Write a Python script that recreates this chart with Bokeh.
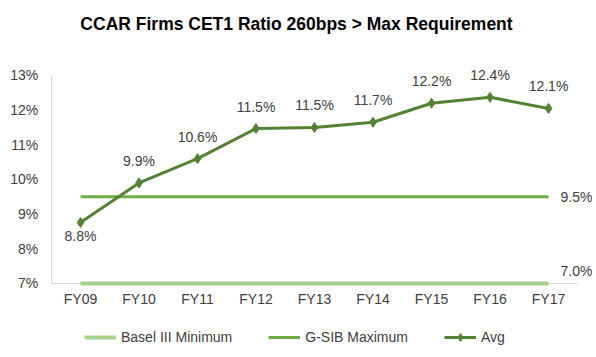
from bokeh.plotting import figure
from bokeh.models import (ColumnDataSource, Range1d, LabelSet, Label, Legend,
                          LegendItem, FixedTicker)
from bokeh.embed import file_html
from bokeh.resources import INLINE
from bokeh.core.properties import value

# ---- data ----
years = ["FY09", "FY10", "FY11", "FY12", "FY13", "FY14", "FY15", "FY16", "FY17"]
avg = [8.76, 9.90, 10.60, 11.47, 11.50, 11.65, 12.20, 12.37, 12.05]
avg_labels = ["8.8%", "9.9%", "10.6%", "11.5%", "11.5%", "11.7%", "12.2%", "12.4%", "12.1%"]
gsib_max = [9.5, 9.5, 9.5, 9.5, 9.5, 9.5, 9.5, 9.5, 9.5]
basel_min = [7.0, 7.0, 7.0, 7.0, 7.0, 7.0, 7.0, 7.0, 7.0]
ref_labels = ["9.5%", "7.0%"]
y_ticks = [7, 8, 9, 10, 11, 12, 13]
y_tick_labels = ["7%", "8%", "9%", "10%", "11%", "12%", "13%"]
title_text = "CCAR Firms CET1 Ratio 260bps > Max Requirement"

FONT = "Liberation Sans"
TXT = "#404040"
C_AVG = "#548235"
C_GSIB = "#70ad47"
C_BASEL = "#a9d18e"

xi = list(range(len(years)))
src = ColumnDataSource(dict(
    x=xi, avg=avg, lab=avg_labels, gsib=gsib_max, basel=basel_min,
    off=[-14 if i == 0 else 22 for i in xi],
))

p = figure(x_range=Range1d(-1.3675, 8.752), y_range=Range1d(4.952, 15.163),
           width=592, height=354,
           min_border_left=0, min_border_right=0, min_border_top=0, min_border_bottom=0,
           output_backend="svg", toolbar_location=None)

p.outline_line_color = None
p.xgrid.visible = False
p.ygrid.visible = False

r_basel = p.line("x", "basel", source=src, color=C_BASEL, line_width=4, level="overlay")
r_gsib = p.line("x", "gsib", source=src, color=C_GSIB, line_width=3)
r_avg = p.line("x", "avg", source=src, color=C_AVG, line_width=3)
r_avg_m = p.scatter("x", "avg", source=src, marker="diamond", size=10, color=C_AVG)

p.add_layout(LabelSet(x="x", y="avg", text="lab", source=src, y_offset="off",
                      text_align="center", text_baseline="middle",
                      text_font=value(FONT), text_font_size=value("14px"),
                      text_color=TXT))

ref_src = ColumnDataSource(dict(x=[xi[-1], xi[-1]], y=[gsib_max[-1], basel_min[-1]],
                                t=ref_labels, yo=[0, 12]))
p.add_layout(LabelSet(x="x", y="y", text="t", source=ref_src, x_offset=12, y_offset="yo",
                      text_align="left", text_baseline="middle",
                      text_font=value(FONT), text_font_size=value("14px"),
                      text_color=TXT))

# chart title
p.add_layout(Label(x=296, y=331, x_units="screen", y_units="screen", text=title_text,
                   text_align="center", text_baseline="middle",
                   text_font=FONT, text_font_size="17.5px", text_font_style="bold",
                   text_color="#000000"))

# axes (pinned at the chart's data edges)
p.xaxis.fixed_location = 7
p.yaxis.fixed_location = -0.5
p.xaxis.ticker = FixedTicker(ticks=xi)
p.xaxis.major_label_overrides = {i: y for i, y in zip(xi, years)}
p.xaxis.bounds = (-0.5, 8.5)
p.yaxis.ticker = FixedTicker(ticks=y_ticks)
p.yaxis.major_label_overrides = {t: l for t, l in zip(y_ticks, y_tick_labels)}
p.yaxis.bounds = (7, 13)
for ax in (p.xaxis[0], p.yaxis[0]):
    ax.axis_line_color = "#d9d9d9"
    ax.major_tick_line_color = None
    ax.minor_tick_line_color = None
    ax.major_tick_out = 0
    ax.major_tick_in = 0
    ax.minor_tick_out = 0
    ax.minor_tick_in = 0
    ax.major_label_text_font = FONT
    ax.major_label_text_font_size = "14px"
    ax.major_label_text_color = TXT
p.yaxis.major_label_standoff = 13
p.xaxis.major_label_standoff = 8

legend = Legend(items=[
    LegendItem(label="Basel III Minimum", renderers=[r_basel]),
    LegendItem(label="G-SIB Maximum", renderers=[r_gsib]),
    LegendItem(label="Avg", renderers=[r_avg, r_avg_m]),
], orientation="horizontal", location=(84, 7),
    label_text_font=FONT, label_text_font_size="14px", label_text_color=TXT,
    glyph_width=32, glyph_height=20, label_height=20, label_standoff=5, spacing=36,
    padding=0, margin=0, border_line_color=None, background_fill_alpha=0)
p.add_layout(legend)

open("out.html", "w").write(file_html(p, INLINE))
